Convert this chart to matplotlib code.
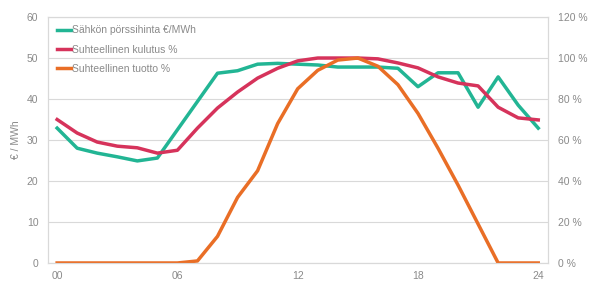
import matplotlib
matplotlib.use("Agg")
import matplotlib.pyplot as plt

plt.rcParams['font.family'] = ['Liberation Sans', 'DejaVu Sans']

# hourly data, 00..24
hours = list(range(25))
hour_ticks = [0, 6, 12, 18, 24]
hour_labels = ['00', '06', '12', '18', '24']

# electricity spot price €/MWh (left axis)
price = [32.9, 28.0, 26.8, 25.9, 24.9, 25.6, 32.5, 39.4, 46.3, 46.9, 48.5, 48.7, 48.5,
         48.3, 47.8, 47.8, 47.8, 47.5, 43.0, 46.4, 46.4, 38.0, 45.4, 38.5, 32.9]
# relative consumption % (right axis)
consumption = [70, 63.4, 59, 57, 56.2, 53.6, 55, 65.8, 75.6, 83.4, 90.2, 95, 98.6,
               100, 100, 100, 99.6, 97.6, 95.2, 90.8, 87.8, 86.4, 76, 70.8, 69.8]
# relative solar production % (right axis)
production = [0, 0, 0, 0, 0, 0, 0, 1, 13, 32, 45, 68, 85,
              94, 99, 100, 96, 87, 73, 56, 38, 19, 0, 0, 0]

green = '#22b594'
red = '#d6335b'
orange = '#e96e26'
grey_txt = '#8a8a8a'
grid_c = '#d9d9d9'

fig, ax = plt.subplots(figsize=(5.94, 2.84), dpi=100)
fig.subplots_adjust(left=0.081, right=0.923, bottom=0.074, top=0.940)
ax2 = ax.twinx()

l1, = ax.plot(hours, price, color=green, lw=2.5)
l2, = ax2.plot(hours, consumption, color=red, lw=2.5)
l3, = ax2.plot(hours, production, color=orange, lw=2.5)

ax.set_xlim(-0.45, 24.5)
ax.set_ylim(0, 60)
ax2.set_ylim(0, 120)
ax.set_yticks(range(0, 61, 10))
ax2.set_yticks(range(0, 121, 20))
ax2.set_yticklabels([f'{v} %' for v in range(0, 121, 20)])
ax.set_xticks(hour_ticks)
ax.set_xticklabels(hour_labels)

ax.yaxis.grid(True, color=grid_c, lw=0.8)
ax.set_axisbelow(True)
for a in (ax, ax2):
    a.tick_params(length=0, labelsize=7.5, colors=grey_txt, pad=7)
    for s in a.spines.values():
        s.set_color(grid_c)
        s.set_linewidth(0.8)
ax.tick_params(axis='x', pad=6)

ax.set_ylabel('€ / MWh', fontsize=7.5, color=grey_txt, labelpad=4)

ax2.legend([l1, l2, l3],
           ['Sähkön pörssihinta €/MWh', 'Suhteellinen kulutus %', 'Suhteellinen tuotto %'],
           loc='upper left', bbox_to_anchor=(0.0, 1.005), frameon=False,
           fontsize=7.5, handlelength=1.3, handletextpad=0.1, labelspacing=0.9,
           labelcolor=grey_txt)

fig.savefig('out.png', dpi=100)
